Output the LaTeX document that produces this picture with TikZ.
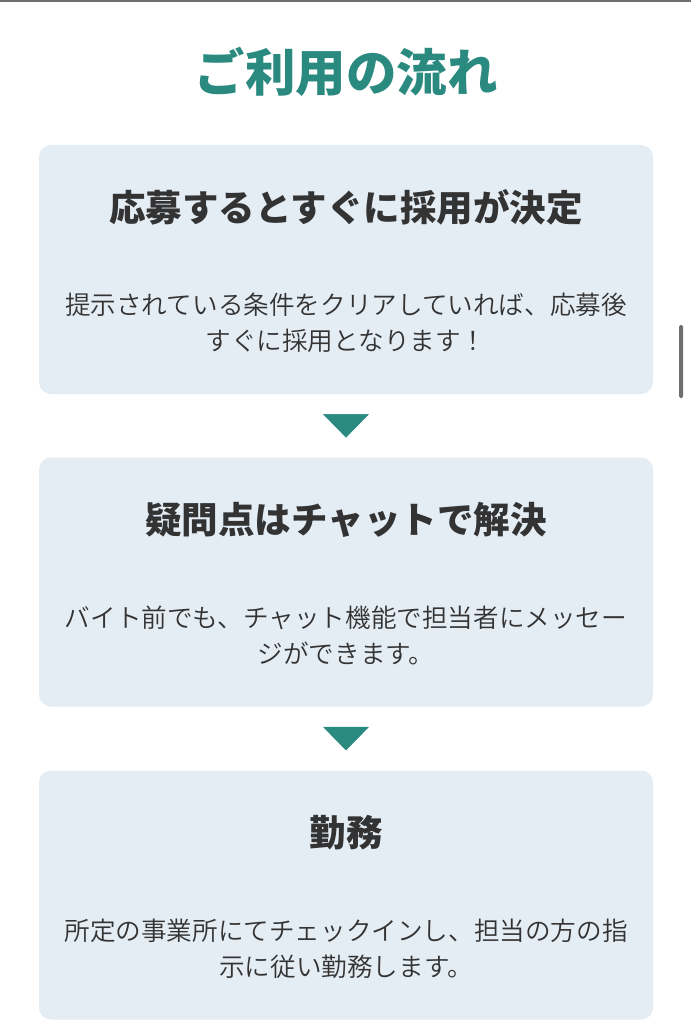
\documentclass[tikz,border=0pt]{standalone}
\usepackage{fontspec}
\setmainfont{Noto Sans CJK JP}
\newfontfamily\bodyfont{Noto Sans CJK JP DemiLight}
\usetikzlibrary{calc}
\definecolor{teal1}{RGB}{42,138,128}
\definecolor{boxfill}{RGB}{228,236,244}
\definecolor{txt}{RGB}{51,51,51}
\definecolor{barc}{RGB}{110,110,110}
\begin{document}
\begin{tikzpicture}[x=1pt,y=-1pt,
  box/.style={fill=boxfill, rounded corners=12pt, minimum width=614pt, minimum height=249pt, inner sep=0pt},
  titletext/.style={font=\fontsize{50.5}{56}\selectfont\bfseries, text=teal1, inner sep=0pt},
  head/.style={font=\fontsize{36.5}{40}\selectfont\bfseries, text=txt, inner sep=0pt},
  body/.style={font=\bodyfont\fontsize{25.6}{36}\selectfont, text=txt, align=center, inner sep=0pt},
  tri/.style={fill=teal1, draw=teal1, line width=0.5pt, line join=round}]
\useasboundingbox (0,0) rectangle (691,1024);
\fill[white] (0,0) rectangle (691,1024);
\draw[barc, line width=2pt] (0,1) -- (691,1);
\fill[barc, rounded corners=1.5pt] (679,325) rectangle (683,398);

\node[titletext] (title) at (346,72) {ご利用の流れ};

\node[box] (b1) at (346,269.5) {};
\node[box] (b2) at (346,582) {};
\node[box] (b3) at (346,895) {};

\node[head] (h1) at ($(b1.north)+(0,63)$) {応募するとすぐに採用が決定};
\node[body] (d1) at ($(b1.north)+(0,178)$) {提示されている条件をクリアしていれば、応募後\\すぐに採用となります！};

\node[head] (h2) at ($(b2.north)+(0,63)$) {疑問点はチャットで解決};
\node[body] (d2) at ($(b2.north)+(0,178)$) {バイト前でも、チャット機能で担当者にメッセー\\ジができます。};

\node[head] (h3) at ($(b3.north)+(0,62)$) {勤務};
\node[body] (d3) at ($(b3.north)+(0,178)$) {所定の事業所にてチェックインし、担当の方の指\\示に従い勤務します。};

\coordinate (t1) at ($(b1.south)!0.5!(b2.north)$);
\coordinate (t2) at ($(b2.south)!0.5!(b3.north)$);
\filldraw[tri] ($(t1)+(-22.5,-11.5)$) -- ($(t1)+(22.5,-11.5)$) -- ($(t1)+(0,11.5)$) -- cycle;
\filldraw[tri] ($(t2)+(-22.5,-11.5)$) -- ($(t2)+(22.5,-11.5)$) -- ($(t2)+(0,11.5)$) -- cycle;
\end{tikzpicture}
\end{document}
